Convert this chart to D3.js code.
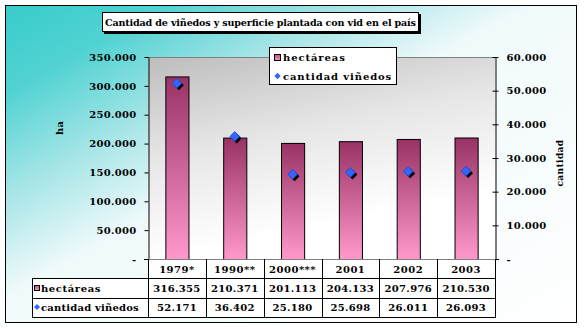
<!DOCTYPE html>
<html>
<head>
<meta charset="utf-8">
<script src="https://cdn.jsdelivr.net/npm/d3@7"></script>
<style>
  html, body { margin: 0; padding: 0; background: #fff; }
  svg text { font-family: "DejaVu Serif", serif; font-weight: bold; fill: #000; }
</style>
</head>
<body>
<svg id="chart" width="584" height="329"></svg>
<script>
// Vineyards and planted area, by year
const years = ["1979*", "1990**", "2000***", "2001", "2002", "2003"];
const hectareas = [316355, 210371, 201113, 204133, 207976, 210530];
const vinedos = [52171, 36402, 25180, 25698, 26011, 26093];
const leftTicks = [0, 50000, 100000, 150000, 200000, 250000, 300000, 350000];
const rightTicks = [0, 10000, 20000, 30000, 40000, 50000, 60000];
const seriesNames = ["hectáreas", "cantidad viñedos"];
const titleText = "Cantidad de viñedos y superficie plantada con vid en el país";

const loc = d3.formatLocale({ decimal: ",", thousands: ".", grouping: [3], currency: ["", ""] });
const fmt = v => v === 0 ? "-" : loc.format(",")(v);

const svg = d3.select("#chart");
const defs = svg.append("defs");

// chart area background: teal in the upper-left corner fading to white
const bg = defs.append("linearGradient").attr("id", "bgGrad")
  .attr("x1", 0).attr("y1", 0).attr("x2", 1).attr("y2", 1);
bg.append("stop").attr("offset", 0).attr("stop-color", "#38cccc");
bg.append("stop").attr("offset", 0.14).attr("stop-color", "#52d2d2");
bg.append("stop").attr("offset", 0.3).attr("stop-color", "#a6e5e7");
bg.append("stop").attr("offset", 0.46).attr("stop-color", "#f0fafb");
bg.append("stop").attr("offset", 1).attr("stop-color", "#ffffff");

// plot area: grey fading to white
const pg = defs.append("linearGradient").attr("id", "plotGrad")
  .attr("x1", 0).attr("y1", 0).attr("x2", 0.35).attr("y2", 1);
pg.append("stop").attr("offset", 0).attr("stop-color", "#bdbdbd");
pg.append("stop").attr("offset", 0.45).attr("stop-color", "#e6e6e6");
pg.append("stop").attr("offset", 0.9).attr("stop-color", "#ffffff");

// bar fill: dark plum at the top, pink at the bottom
const bgBar = defs.append("linearGradient").attr("id", "barGrad")
  .attr("x1", 0).attr("y1", 0).attr("x2", 0).attr("y2", 1);
bgBar.append("stop").attr("offset", 0).attr("stop-color", "#993366");
bgBar.append("stop").attr("offset", 1).attr("stop-color", "#ff99cc");

// legend key: same ramp, compressed into a small square
const keyGrad = defs.append("linearGradient").attr("id", "keyGrad")
  .attr("x1", 0).attr("y1", 0).attr("x2", 0).attr("y2", 1);
keyGrad.append("stop").attr("offset", 0).attr("stop-color", "#c04c86");
keyGrad.append("stop").attr("offset", 1).attr("stop-color", "#f597c6");

// outer frame
svg.append("rect").attr("x", 5.5).attr("y", 5.5).attr("width", 571).attr("height", 317)
  .attr("fill", "url(#bgGrad)").attr("stroke", "#000").attr("stroke-width", 1);

const plot = { left: 148, right: 495, top: 57, bottom: 259 };

svg.append("rect").attr("x", plot.left).attr("y", plot.top)
  .attr("width", plot.right - plot.left).attr("height", plot.bottom - plot.top)
  .attr("fill", "url(#plotGrad)");
svg.append("line").attr("x1", plot.left).attr("x2", plot.right)
  .attr("y1", plot.top + 0.5).attr("y2", plot.top + 0.5).attr("stroke", "#808080");

const xCat = d3.scaleBand().domain(years).range([plot.left, plot.right]);
const xBar = d3.scaleBand().domain(years).range([plot.left, plot.right])
  .paddingInner(0.6).paddingOuter(0.3);
const yL = d3.scaleLinear().domain([0, 350000]).range([plot.bottom, plot.top]);
const yR = d3.scaleLinear().domain([0, 60000]).range([plot.bottom, plot.top]);

// bars
svg.append("g").selectAll("rect").data(years).join("rect")
  .attr("x", d => xBar(d) + 0.5)
  .attr("y", (d, i) => yL(hectareas[i]) + 0.5)
  .attr("width", xBar.bandwidth())
  .attr("height", (d, i) => yL(0) - yL(hectareas[i]))
  .attr("fill", "url(#barGrad)").attr("stroke", "#000").attr("stroke-width", 1);

// axes
const axL = svg.append("g").attr("transform", `translate(${plot.left + 0.5},0)`)
  .call(d3.axisLeft(yL).tickValues(leftTicks).tickFormat(fmt).tickSizeInner(4).tickSizeOuter(0).tickPadding(8));
const axR = svg.append("g").attr("transform", `translate(${plot.right + 0.5},0)`)
  .call(d3.axisRight(yR).tickValues(rightTicks).tickFormat(fmt).tickSizeInner(3).tickSizeOuter(0).tickPadding(8));
axR.selectAll(".tick line").attr("x1", -3).attr("x2", 3);
[axL, axR].forEach(ax => {
  ax.select(".domain").attr("stroke", "#000");
  ax.selectAll(".tick line").attr("stroke", "#000");
  ax.selectAll(".tick text").style("font-family", "DejaVu Serif").style("font-weight", "bold")
    .style("font-size", "10px").style("letter-spacing", "0.3px").attr("fill", "#000");
});
// baseline
svg.append("line").attr("x1", plot.left - 4).attr("x2", plot.right + 4)
  .attr("y1", plot.bottom + 0.5).attr("y2", plot.bottom + 0.5).attr("stroke", "#000");

// axis titles
svg.append("text").attr("transform", "translate(63,128) rotate(-90)")
  .attr("text-anchor", "middle").style("font-size", "10px").text("ha");
svg.append("text").attr("transform", "translate(563,163) rotate(-90)")
  .attr("text-anchor", "middle").style("font-size", "9px").style("letter-spacing", "0.4px").text("cantidad");

// diamond markers with drop shadow
const diamond = d3.symbol().type(d3.symbolDiamond2).size(62);
const mk = svg.append("g");
mk.selectAll("path.sh").data(years).join("path").attr("class", "sh")
  .attr("d", diamond)
  .attr("transform", (d, i) => `translate(${xCat(d) + xCat.bandwidth() / 2 + 2},${yR(vinedos[i]) + 2})`)
  .attr("fill", "#000");
mk.selectAll("path.pt").data(years).join("path").attr("class", "pt")
  .attr("d", diamond)
  .attr("transform", (d, i) => `translate(${xCat(d) + xCat.bandwidth() / 2},${yR(vinedos[i])})`)
  .attr("fill", "#3366ff").attr("stroke", "#1a3fcc").attr("stroke-width", 0.7);

// title box
svg.append("rect").attr("x", 104).attr("y", 14).attr("width", 317).attr("height", 20).attr("fill", "#000");
svg.append("rect").attr("x", 102.5).attr("y", 12.5).attr("width", 316).attr("height", 19)
  .attr("fill", "#fff").attr("stroke", "#000");
svg.append("text").attr("x", 260.5).attr("y", 25.5).attr("text-anchor", "middle")
  .style("font-size", "9.6px").attr("textLength", 311).attr("lengthAdjust", "spacing")
  .text(titleText);

// legend
const lg = svg.append("g");
lg.append("rect").attr("x", 269.5).attr("y", 47.5).attr("width", 127).attr("height", 37)
  .attr("fill", "#fff").attr("stroke", "#000");
lg.append("rect").attr("x", 274.5).attr("y", 54.5).attr("width", 6).attr("height", 6)
  .attr("fill", "url(#keyGrad)").attr("stroke", "#000");
lg.append("text").attr("x", 283).attr("y", 61).style("font-size", "10px").style("letter-spacing", "0.9px").text(seriesNames[0]);
lg.append("path").attr("d", d3.symbol().type(d3.symbolDiamond2).size(26))
  .attr("transform", "translate(277.5,76)").attr("fill", "#3366ff");
lg.append("text").attr("x", 283).attr("y", 80).style("font-size", "10px").style("letter-spacing", "0.9px").text(seriesNames[1]);

// data table
const rows = { head: [259, 278], r1: [278, 298], r2: [298, 317] };
const tbl = svg.append("g");
tbl.append("rect").attr("x", plot.left + 0.5).attr("y", rows.head[0] + 0.5)
  .attr("width", plot.right - plot.left).attr("height", rows.head[1] - rows.head[0]).attr("fill", "#fff");
tbl.append("rect").attr("x", 32.5).attr("y", rows.r1[0] + 0.5)
  .attr("width", plot.right - 32).attr("height", rows.r2[1] - rows.r1[0]).attr("fill", "#fff");
// horizontal rules
[rows.r1[0], rows.r2[0], rows.r2[1]].forEach(y => {
  tbl.append("line").attr("x1", 32).attr("x2", plot.right + 1)
    .attr("y1", y + 0.5).attr("y2", y + 0.5).attr("stroke", "#000");
});
// vertical rules
tbl.append("line").attr("x1", 32.5).attr("x2", 32.5).attr("y1", rows.r1[0]).attr("y2", rows.r2[1] + 1).attr("stroke", "#000");
const edges = years.map(d => xCat(d)).concat([plot.right]);
tbl.selectAll("line.v").data(edges).join("line").attr("class", "v")
  .attr("x1", d => Math.round(d) + 0.5).attr("x2", d => Math.round(d) + 0.5)
  .attr("y1", rows.head[0]).attr("y2", rows.r2[1] + 1).attr("stroke", "#000");

const cx = d => xCat(d) + xCat.bandwidth() / 2;
tbl.selectAll("text.h").data(years).join("text").attr("class", "h")
  .attr("x", cx).attr("y", 273).attr("text-anchor", "middle")
  .style("font-size", "10px").style("letter-spacing", "0.5px").text(d => d);
tbl.selectAll("text.a").data(years).join("text").attr("class", "a")
  .attr("x", cx).attr("y", 292).attr("text-anchor", "middle")
  .style("font-size", "10px").style("letter-spacing", "0.3px").text((d, i) => fmt(hectareas[i]));
tbl.selectAll("text.b").data(years).join("text").attr("class", "b")
  .attr("x", cx).attr("y", 311).attr("text-anchor", "middle")
  .style("font-size", "10px").style("letter-spacing", "0.3px").text((d, i) => fmt(vinedos[i]));

tbl.append("rect").attr("x", 34.5).attr("y", 285.5).attr("width", 5).attr("height", 5)
  .attr("fill", "url(#keyGrad)").attr("stroke", "#000");
tbl.append("text").attr("x", 41).attr("y", 292).style("font-size", "10px").style("letter-spacing", "0.6px").text(seriesNames[0]);
tbl.append("path").attr("d", d3.symbol().type(d3.symbolDiamond2).size(24))
  .attr("transform", "translate(37,307)").attr("fill", "#3366ff");
tbl.append("text").attr("x", 41).attr("y", 311).style("font-size", "10px").style("letter-spacing", "0.2px").text(seriesNames[1]);
</script>
</body>
</html>
